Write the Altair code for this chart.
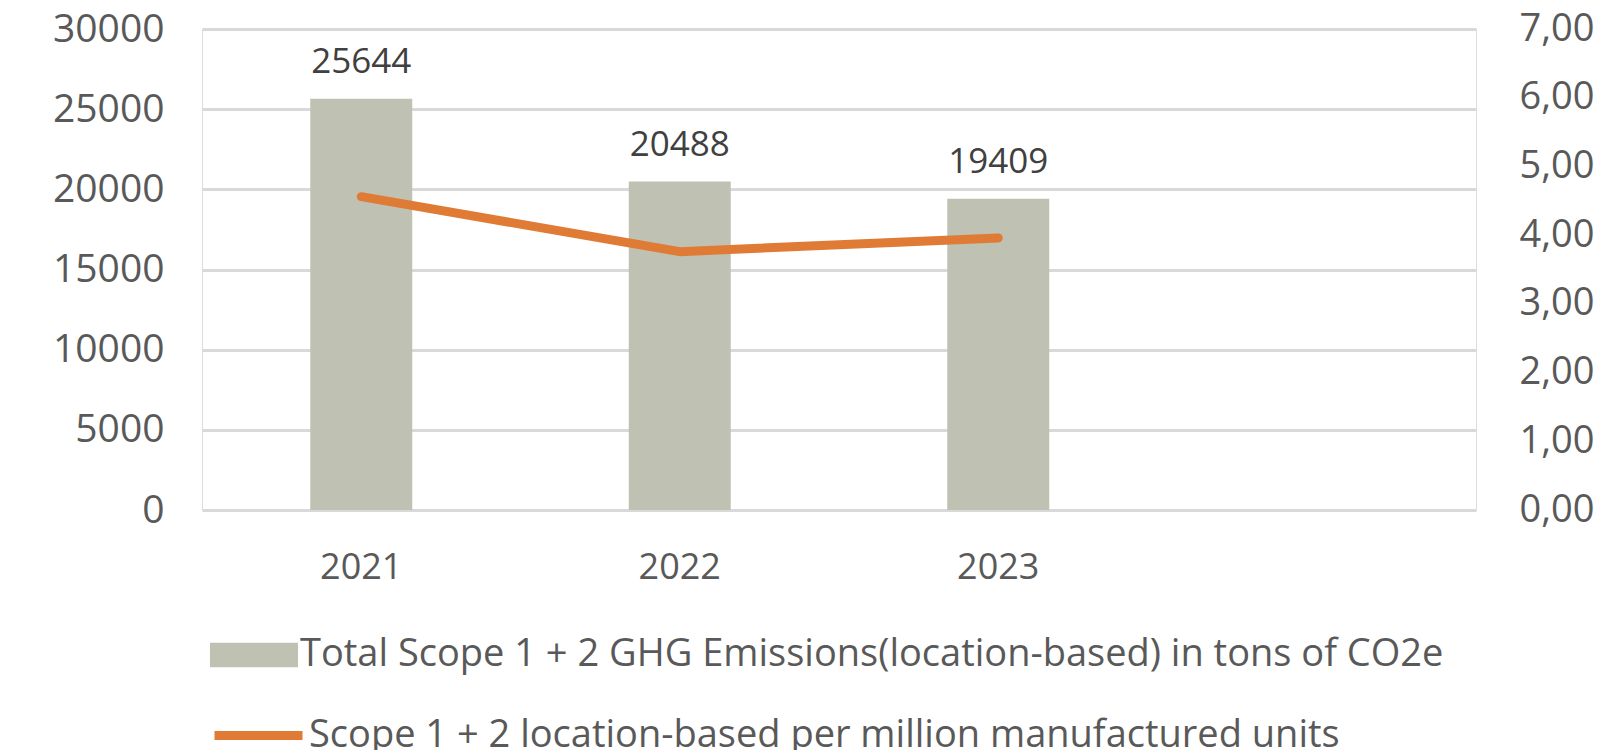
import altair as alt
import pandas as pd

years = ["2021", "2022", "2023"]
x_domain = ["2021", "2022", "2023", " "]
emissions = [25644, 20488, 19409]
intensity = [4.56, 3.76, 3.96]
bar_name = "Total Scope 1 + 2 GHG Emissions(location-based) in tons of CO2e"
line_name = "Scope 1 + 2 location-based per million manufactured units"
left_ticks = [0, 5000, 10000, 15000, 20000, 25000, 30000]
right_ticks = [0, 1, 2, 3, 4, 5, 6, 7]

FONT = "Open Sans"
GREY_BAR = "#BFC1B3"
ORANGE = "#E07B35"
LABEL = "#595959"

df = pd.DataFrame({
    "year": years,
    "emissions": emissions,
    "intensity": intensity,
    "bar_series": [bar_name] * 3,
    "line_series": [line_name] * 3,
})

x_enc = alt.X(
    "year:N",
    scale=alt.Scale(domain=x_domain, paddingInner=0.68, paddingOuter=0.34),
    axis=alt.Axis(title=None, labelAngle=0, domain=False, ticks=False,
                  labelFontSize=36, labelFont=FONT, labelColor=LABEL,
                  labelPadding=40, grid=False),
)

y_left = alt.Y(
    "emissions:Q",
    scale=alt.Scale(domain=[0, 30000], nice=False),
    axis=alt.Axis(title=None, values=left_ticks, format="d", grid=True,
                  gridColor="#D9D9D9", gridWidth=3, domain=False, ticks=False,
                  labelFontSize=39, labelFont=FONT, labelColor=LABEL,
                  labelPadding=38),
)

bars = alt.Chart(df).mark_bar(size=102).encode(
    x=x_enc,
    y=y_left,
    color=alt.Color(
        "bar_series:N",
        scale=alt.Scale(domain=[bar_name], range=[GREY_BAR]),
        legend=alt.Legend(
            title=None, orient="none", legendX=8, legendY=582,
            symbolType="M-1,-0.28L1,-0.28L1,0.28L-1,0.28Z",
            symbolSize=7744, symbolStrokeWidth=0, symbolOpacity=1,
            labelFontSize=38, labelFont=FONT, labelColor=LABEL,
            labelLimit=3000, labelOffset=2, padding=0,
        ),
    ),
)

labels = alt.Chart(df).mark_text(
    dy=-26, baseline="alphabetic", fontSize=35, font=FONT, color="#404040"
).encode(
    x=x_enc,
    y=y_left,
    text=alt.Text("emissions:Q", format="d"),
)

line = alt.Chart(df).mark_line(strokeWidth=9, strokeCap="round", strokeJoin="round").encode(
    x=x_enc,
    y=alt.Y(
        "intensity:Q",
        scale=alt.Scale(domain=[0, 7], nice=False),
        axis=alt.Axis(title=None, orient="right", values=right_ticks, grid=False,
                      domain=False, ticks=False,
                      labelExpr="replace(format(datum.value, '.2f'), '.', ',')",
                      labelFontSize=38, labelFont=FONT, labelColor=LABEL,
                      labelPadding=43),
    ),
    stroke=alt.Stroke(
        "line_series:N",
        scale=alt.Scale(domain=[line_name], range=[ORANGE]),
        legend=alt.Legend(
            title=None, orient="none", legendX=8, legendY=658,
            symbolType="stroke", symbolSize=7744, symbolStrokeWidth=9,
            labelFontSize=38, labelFont=FONT, labelColor=LABEL,
            labelLimit=3000, labelOffset=2, padding=0,
        ),
    ),
)

chart = alt.layer(alt.layer(bars, labels), line).resolve_scale(
    y="independent"
).properties(
    width=1274,
    height=481,
    autosize=alt.AutoSizeParams(type="none"),
    padding={"left": 194, "top": 21, "right": 120, "bottom": 240},
).configure_view(stroke=None).configure(background="white")

chart.save("out.html", embed_options={"renderer": "svg", "actions": False})
